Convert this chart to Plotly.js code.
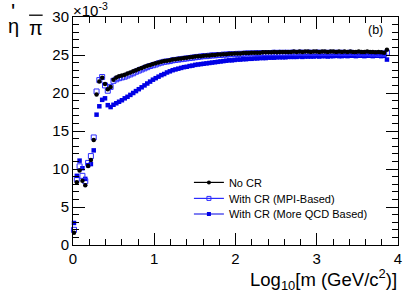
<!DOCTYPE html>
<html><head><meta charset="utf-8">
<script src="https://cdn.plot.ly/plotly-3.0.1.min.js"></script>
<style>html,body{margin:0;padding:0;background:#fff}#chart{width:407px;height:293px}</style>
</head><body><div id="chart"></div>
<script>
// log10 of mass (GeV/c^2), bin centres
const logMass = [
0.012,0.047,0.081,0.116,0.151,0.186,0.220,0.255,0.290,0.324,0.359,0.394,0.428,0.463,0.498,
0.533,0.567,0.602,0.637,0.671,0.706,0.741,0.775,0.810,0.845,0.880,0.914,0.949,0.984,1.018,
1.053,1.088,1.122,1.157,1.192,1.227,1.261,1.296,1.331,1.365,1.400,1.435,1.469,1.504,1.539,
1.574,1.608,1.643,1.678,1.712,1.747,1.782,1.816,1.851,1.886,1.921,1.955,1.990,2.025,2.059,
2.094,2.129,2.163,2.198,2.233,2.268,2.302,2.337,2.372,2.406,2.441,2.476,2.510,2.545,2.580,
2.615,2.649,2.684,2.719,2.753,2.788,2.823,2.857,2.892,2.927,2.962,2.996,3.031,3.066,3.100,
3.135,3.170,3.204,3.239,3.274,3.309,3.343,3.378,3.413,3.447,3.482,3.517,3.551,3.586,3.621,
3.656,3.690,3.725,3.760,3.794,3.829,3.864];

// eta'/pi ratio (x 10^-3)
const noCR = [
1.6,8.25,9.8,8.45,7.85,10.4,11.2,13.8,19.8,21.5,22.0,21.2,20.5,20.8,21.75,
22.05,22.2,22.3,22.4,22.55,22.7,22.85,23.0,23.15,23.3,23.45,23.6,23.7,23.8,23.9,
24.0,24.1,24.2,24.25,24.3,24.4,24.45,24.5,24.55,24.6,24.65,24.7,24.75,24.8,24.85,
24.85,24.9,24.95,24.95,25.0,25.0,25.05,25.05,25.1,25.1,25.15,25.15,25.2,25.2,25.2,
25.25,25.25,25.25,25.3,25.3,25.3,25.3,25.35,25.35,25.35,25.35,25.4,25.35,25.4,25.4,
25.4,25.4,25.4,25.45,25.4,25.45,25.4,25.45,25.45,25.4,25.45,25.45,25.4,25.45,25.45,
25.4,25.45,25.45,25.4,25.45,25.4,25.45,25.4,25.45,25.4,25.4,25.45,25.4,25.4,25.45,
25.4,25.4,25.35,25.4,25.35,25.3,25.7];

const mpiCR = [
2.0,8.7,10.35,9.1,8.4,10.8,11.7,14.15,20.2,21.7,22.1,21.0,20.3,20.8,21.6,
21.8,21.95,22.05,22.15,22.3,22.45,22.6,22.8,22.95,23.1,23.25,23.4,23.55,23.65,23.75,
23.9,24.0,24.1,24.15,24.2,24.3,24.35,24.4,24.45,24.5,24.55,24.6,24.65,24.7,24.75,
24.8,24.85,24.85,24.9,24.95,24.95,25.0,25.0,25.05,25.05,25.1,25.1,25.1,25.15,25.15,
25.15,25.2,25.2,25.2,25.2,25.25,25.2,25.25,25.25,25.25,25.25,25.3,25.25,25.3,25.25,
25.3,25.25,25.3,25.3,25.25,25.3,25.3,25.25,25.3,25.3,25.25,25.3,25.3,25.25,25.3,
25.25,25.3,25.25,25.3,25.25,25.3,25.25,25.25,25.3,25.25,25.25,25.2,25.25,25.2,25.25,
25.2,25.2,25.2,25.15,25.2,25.15,25.3];

const qcdCR = [
2.9,9.1,11.1,10.1,8.7,10.5,10.65,12.45,17.15,18.25,19.1,19.3,18.4,18.15,18.45,
18.65,18.85,19.05,19.3,19.5,19.75,20.0,20.25,20.5,20.75,21.0,21.25,21.5,21.75,21.95,
22.15,22.35,22.5,22.7,22.85,23.0,23.1,23.2,23.3,23.4,23.45,23.55,23.6,23.7,23.75,
23.8,23.85,23.9,23.95,24.0,24.05,24.1,24.15,24.2,24.25,24.3,24.3,24.35,24.4,24.4,
24.45,24.45,24.5,24.5,24.55,24.55,24.6,24.6,24.6,24.65,24.65,24.65,24.7,24.7,24.7,
24.7,24.75,24.75,24.75,24.75,24.8,24.75,24.8,24.8,24.8,24.8,24.85,24.8,24.85,24.85,
24.8,24.85,24.85,24.9,24.85,24.85,24.9,24.85,24.9,24.9,24.85,24.9,24.9,24.85,24.9,
24.9,24.85,24.9,24.9,24.85,24.9,24.4];

const seriesNames = ['No CR', 'With CR (MPI-Based)', 'With CR (More QCD Based)'];
const xTitle = 'Log<sub>10</sub>[m (GeV/c<sup>2</sup>)]';
const expLabel = '×10<sup>-3</sup>';
const panelLabel = '(b)';

const FONT = 'Liberation Sans, Arial, Helvetica, sans-serif';
const BLACK = '#000000';
const BLUE_F = '#0000e6';
const BLUE_O = '#2b2bff';

const styles = [
  {color: BLACK, symbol: 'circle', size: 4.5, lw: 0},
  {color: BLUE_O, symbol: 'square-open', size: 5, lw: 1},
  {color: BLUE_F, symbol: 'square', size: 4.5, lw: 0}
];
const ys = [noCR, mpiCR, qcdCR];

const traces = [];
// draw order: QCD, MPI, No CR (black on top)
[2, 1, 0].forEach(k => {
  traces.push({
    type: 'scatter', mode: 'markers', x: logMass, y: ys[k], showlegend: false,
    marker: {color: styles[k].color, symbol: styles[k].symbol, size: styles[k].size,
             line: {color: styles[k].color, width: styles[k].lw}},
    cliponaxis: false
  });
});
// legend entries (line + marker, ROOT "lp" style)
const legIds = ['legend', 'legend2', 'legend3'];
[0, 1, 2].forEach(k => {
  traces.push({
    type: 'scatter', mode: 'lines+markers', x: [null], y: [null], name: seriesNames[k],
    legend: legIds[k], showlegend: true,
    line: {color: styles[k].color, width: 1.2},
    marker: {color: styles[k].color, symbol: styles[k].symbol, size: 4,
             line: {color: styles[k].color, width: styles[k].lw}}
  });
});

const L = 73.3, T = 17.3, W = 324.4, H = 228;
const px2x = p => (p - L) / W;
const py2y = p => 1 - (p - T) / H;

function legendAt(rowY) {
  return {x: px2x(189), xanchor: 'left', y: py2y(rowY), yanchor: 'middle',
          bgcolor: 'rgba(0,0,0,0)', borderwidth: 0,
          font: {family: FONT, size: 11, color: '#000'}};
}

const axisCommon = {
  showline: true, linecolor: BLACK, linewidth: 1, mirror: 'allticks',
  ticks: 'inside', ticklen: 12, tickwidth: 1, tickcolor: BLACK,
  showgrid: false, zeroline: false, fixedrange: true,
  tickfont: {family: FONT, size: 15, color: '#000'}
};

const layout = {
  width: 407, height: 293,
  margin: {l: 73, r: 9, t: 17, b: 48, pad: 0},
  paper_bgcolor: '#fff', plot_bgcolor: '#fff',
  font: {family: FONT, color: '#000'},
  xaxis: Object.assign({}, axisCommon, {
    range: [0, 4], tick0: 0, dtick: 1,
    minor: {dtick: 0.2, ticks: 'inside', ticklen: 6, tickwidth: 1, tickcolor: BLACK, showgrid: false}
  }),
  yaxis: Object.assign({}, axisCommon, {
    range: [0, 30], tick0: 0, dtick: 5,
    minor: {dtick: 1, ticks: 'inside', ticklen: 6, tickwidth: 1, tickcolor: BLACK, showgrid: false}
  }),
  legend: legendAt(182.7),
  legend2: legendAt(198.7),
  legend3: legendAt(214.3),
  annotations: [
    {text: expLabel, xref: 'paper', yref: 'paper', x: px2x(71), y: py2y(21), xanchor: 'left', yanchor: 'bottom',
     showarrow: false, font: {family: FONT, size: 15, color: '#000'}},
    {text: panelLabel, xref: 'paper', yref: 'paper', x: px2x(375), y: py2y(30), xanchor: 'center', yanchor: 'middle',
     showarrow: false, font: {family: FONT, size: 12.5, color: '#000'}},
    {text: xTitle, xref: 'paper', yref: 'paper', x: 1.002, y: py2y(280), xanchor: 'right', yanchor: 'middle',
     showarrow: false, font: {family: FONT, size: 18.5, color: '#000'}},
    {text: 'η', xref: 'paper', yref: 'paper', x: px2x(13.5), y: py2y(26.5), xanchor: 'center', yanchor: 'middle',
     showarrow: false, font: {family: FONT, size: 20, color: '#000'}},
    {text: "'", xref: 'paper', yref: 'paper', x: px2x(13.5), y: py2y(12), xanchor: 'center', yanchor: 'middle',
     showarrow: false, font: {family: FONT, size: 22, color: '#000'}},
    {text: 'π', xref: 'paper', yref: 'paper', x: px2x(36.5), y: py2y(28), xanchor: 'center', yanchor: 'middle',
     showarrow: false, font: {family: FONT, size: 20, color: '#000'}}
  ],
  shapes: [
    {type: 'line', xref: 'paper', yref: 'paper', x0: px2x(29.5), x1: px2x(43), y0: py2y(15.5), y1: py2y(15.5),
     line: {color: '#000', width: 1.3}}
  ]
};

Plotly.newPlot('chart', traces, layout, {staticPlot: true, displayModeBar: false});
</script>
</body></html>
